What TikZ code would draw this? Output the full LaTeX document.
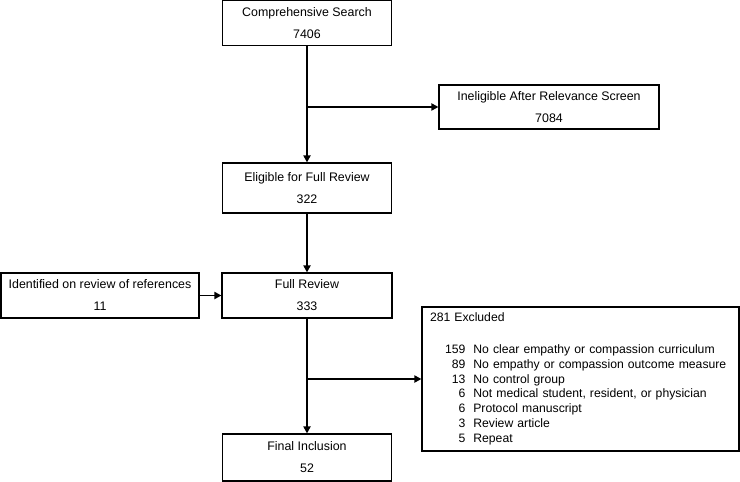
\documentclass[tikz,border=0pt]{standalone}
\usepackage{fontspec}
\setmainfont{Liberation Sans}
\usetikzlibrary{arrows.meta}
\tikzset{
  stagebox/.style={draw, line width=1.1bp, align=center, inner sep=0pt,
    minimum height=45bp, font=\fontsize{12.4bp}{22bp}\selectfont},
  listbox/.style={draw, line width=1.1bp, align=left, inner xsep=8bp, inner ysep=0pt,
    text width=301bp, minimum height=144bp, font=\fontsize{12.2bp}{14.8bp}\selectfont},
  flowarr/.style={line width=1.8bp, -{Triangle[length=7bp,width=7bp]}},
}

\begin{document}
\begin{tikzpicture}[x=1bp, y=-1bp]
\useasboundingbox (0,0) rectangle (740,482);
% ====== main column ======
\node[stagebox, minimum width=169bp] (search) at (307,23) {Comprehensive Search\\7406};
\node[stagebox, minimum width=169bp, minimum height=50bp] (elig) at (307,188) {Eligible for Full Review\\322};
\node[stagebox, minimum width=170bp] (full) at (307,295.5) {Full Review\\333};
\node[stagebox, minimum width=169bp, minimum height=47bp] (final) at (307,457.5) {Final Inclusion\\52};
% ====== side boxes ======
\node[stagebox, minimum width=220bp, minimum height=44bp] (inelig) at (549,107) {Ineligible After Relevance Screen\\7084};
\node[stagebox, minimum width=198bp] (ident) at (100,295.5) {Identified on review of references\\11};
\node[listbox] (excl) at (580.5,379) {%
  \begin{tabular}{@{\hspace{15bp}}r@{\hspace{8bp}}l@{}}
  \multicolumn{2}{@{}l@{}}{281 Excluded}\\[17bp]
  159 & No clear empathy or compassion curriculum\\
  89 & No empathy or compassion outcome measure\\
  13 & No control group\\
  6 & Not medical student, resident, or physician\\
  6 & Protocol manuscript\\
  3 & Review article\\
  5 & Repeat
  \end{tabular}};
% ====== connectors ======
\draw[flowarr] (search) -- (elig);
\draw[flowarr] (search.south |- inelig.west) -- (inelig.west);
\draw[flowarr] (elig) -- (full);
\draw[flowarr] (ident) -- (full);
\draw[flowarr] (full) -- (final);
\draw[flowarr] (full.south |- excl.west) -- (excl.west);
\end{tikzpicture}
\end{document}
